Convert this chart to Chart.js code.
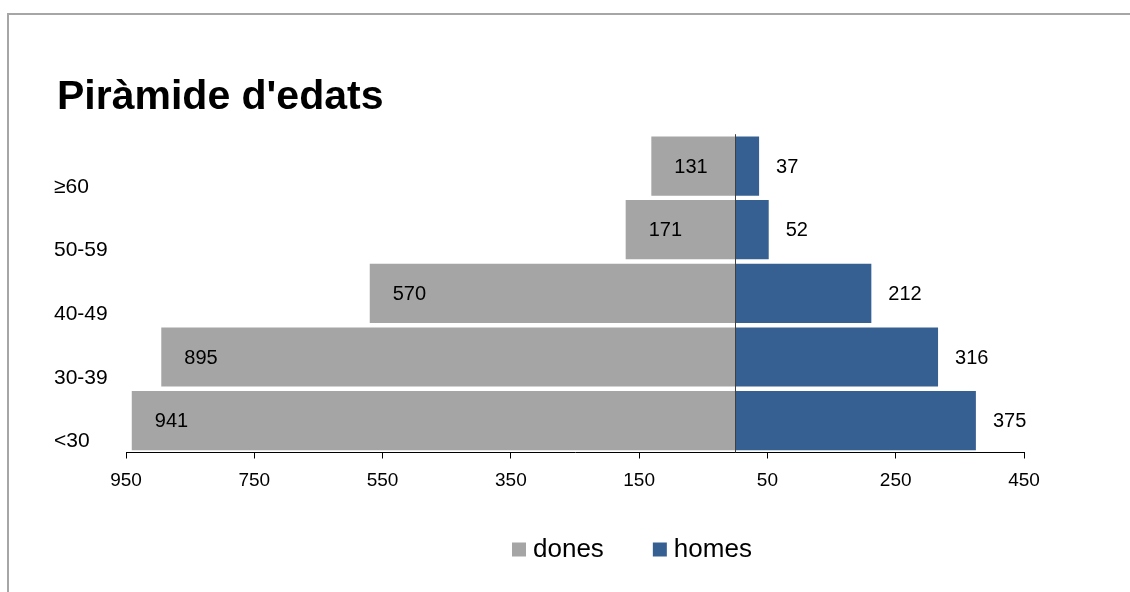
<!DOCTYPE html>
<html>
<head>
<meta charset="utf-8">
<script src="https://cdn.jsdelivr.net/npm/chart.js@4/dist/chart.umd.min.js"></script>
<style>
  html, body { margin: 0; padding: 0; background: #fff; }
  #wrap { position: relative; width: 1130px; height: 592px; overflow: hidden; }
  #frame { position: absolute; left: 7px; top: 13px; width: 1200px; height: 700px;
           border-top: 2px solid #a6a6a6; border-left: 2px solid #a6a6a6; pointer-events: none; }
  canvas { position: absolute; left: 0; top: 0; }
</style>
</head>
<body>
<div id="wrap">
  <canvas id="c" width="1130" height="592"></canvas>
  <div id="frame"></div>
</div>
<script>
const FONT = "'Liberation Sans', Arial, sans-serif";

const titleText = "Piràmide d'edats";
const categories = ['≥60', '50-59', '40-49', '30-39', '<30'];
const donesValues = [131, 171, 570, 895, 941];
const homesValues = [37, 52, 212, 316, 375];
const seriesNames = ['dones', 'homes'];
const xTickValues = [-950, -750, -550, -350, -150, 50, 250, 450];

const valueLabels = {
  id: 'valueLabels',
  afterDatasetsDraw(chart) {
    const ctx = chart.ctx;
    const xs = chart.scales.x;
    const area = chart.chartArea;
    ctx.save();
    // zero axis line
    const x0 = Math.round(xs.getPixelForValue(0)) + 0.5;
    ctx.strokeStyle = '#404040';
    ctx.lineWidth = 1;
    ctx.beginPath();
    ctx.moveTo(x0, area.top);
    ctx.lineTo(x0, area.bottom);
    ctx.stroke();
    // value labels
    ctx.font = '20px ' + FONT;
    ctx.fillStyle = '#000';
    ctx.textBaseline = 'middle';
    ctx.textAlign = 'left';
    chart.data.datasets.forEach((ds, di) => {
      const meta = chart.getDatasetMeta(di);
      meta.data.forEach((bar, i) => {
        const v = ds.data[i];
        const x = v < 0 ? bar.x + 23 : bar.x + 17;
        ctx.fillText(String(Math.abs(v)), x, bar.y + 1);
      });
    });
    ctx.restore();
  }
};

const layoutTweaks = {
  id: 'layoutTweaks',
  afterLayout(chart) {
    const lg = chart.legend;
    if (lg) lg.left = 518 - lg.options.labels.padding;
    const xs = chart.scales.x;
    if (xs) xs.bottom = xs.top + 50;
    const tb = chart.titleBlock;
    if (tb) { tb.left += 3; tb.right += 3; }
  }
};

new Chart(document.getElementById('c'), {
  type: 'bar',
  data: {
    labels: categories,
    datasets: [
      { label: seriesNames[0], data: donesValues.map(v => -v), backgroundColor: '#a5a5a5', borderWidth: 0 },
      { label: seriesNames[1], data: homesValues, backgroundColor: '#366092', borderWidth: 0 }
    ]
  },
  options: {
    indexAxis: 'y',
    responsive: false,
    animation: false,
    devicePixelRatio: 1,
    barPercentage: 0.93,
    categoryPercentage: 1.0,
    layout: { padding: { left: 54, right: 106, top: 0, bottom: 19.5 } },
    scales: {
      x: {
        stacked: true,
        min: xTickValues[0],
        max: xTickValues[xTickValues.length - 1],
        afterBuildTicks: (scale) => { scale.ticks = xTickValues.map(v => ({ value: v })); },
        afterFit: (scale) => { scale.height = 29; },
        ticks: {
          color: '#000',
          font: { size: 19, family: FONT },
          padding: 10.5,
          maxRotation: 0,
          autoSkip: false,
          callback: (v) => String(Math.abs(v))
        },
        grid: { drawOnChartArea: false, drawTicks: true, tickLength: 6, tickColor: '#000', color: '#000' },
        border: { display: true, color: '#000', width: 1 }
      },
      y: {
        stacked: true,
        afterFit: (scale) => { scale.width = 72; },
        ticks: {
          color: '#000',
          font: { size: 21, family: FONT },
          crossAlign: 'far',
          labelOffset: 21,
          autoSkip: false
        },
        grid: { display: false },
        border: { display: false }
      }
    },
    plugins: {
      title: {
        display: true,
        text: titleText,
        align: 'start',
        color: '#000',
        font: { size: 41, weight: 'bold', family: FONT },
        padding: { top: 73, bottom: 12 }
      },
      legend: {
        position: 'bottom',
        align: 'start',
        labels: {
          usePointStyle: true,
          pointStyle: 'rect',
          boxWidth: 2,
          boxHeight: 14,
          padding: 55,
          color: '#000',
          font: { size: 26, family: FONT }
        }
      },
      tooltip: { enabled: false }
    }
  },
  plugins: [valueLabels, layoutTweaks]
});
</script>
</body>
</html>
